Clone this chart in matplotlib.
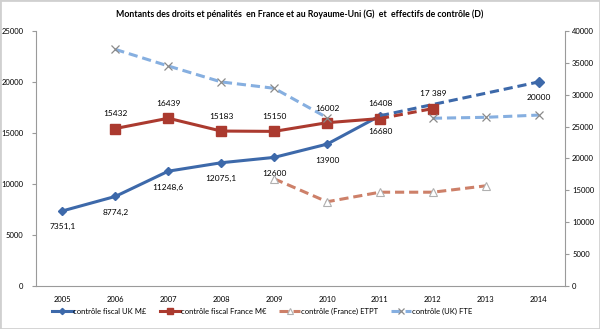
import numpy as np
import matplotlib.pyplot as plt

plt.rcParams['font.family'] = ['Lato', 'DejaVu Sans']

years = [2005, 2006, 2007, 2008, 2009, 2010, 2011, 2012, 2013, 2014]

# montants (G), en millions d'euros
uk_fiscal = [7351.1, 8774.2, 11248.6, 12075.1, 12600, 13900, 16680, np.nan, np.nan, np.nan]
fr_fiscal = [np.nan, 15432, 16439, 15183, 15150, 16002, 16408, np.nan, np.nan, np.nan]
uk_proj_years = [2011, 2014]
uk_proj = [16680, 20000]
fr_proj_years = [2011, 2012]
fr_proj = [16408, 17389]

# effectifs (D)
fr_etpt = [np.nan, np.nan, np.nan, np.nan, 16800, 13200, 14700, 14700, 15700, np.nan]
uk_fte = [np.nan, 37100, 34500, 32000, 31000, 26400, np.nan, 26300, 26450, 26800]

uk_labels = ['7351,1', '8774,2', '11248,6', '12075,1', '12600', '13900', '16680']
fr_labels = ['15432', '16439', '15183', '15150', '16002', '16408']

c_uk = '#3d69aa'
c_fr = '#ab3a2f'
c_etpt = '#cd8069'
c_fte = '#86afe0'

x = np.arange(len(years))
xi = {y: i for i, y in enumerate(years)}

fig = plt.figure(figsize=(6, 3.29), dpi=100)
ax = fig.add_axes([0.06, 0.131, 0.882, 0.775])
ax2 = ax.twinx()

# axe droit : effectifs
ax2.plot(x, fr_etpt, color=c_etpt, lw=2.2, ls=(0, (3, 1.6)), marker='^', ms=6,
         mfc='white', mec='#b0b0b0', mew=0.8, label='contrôle (France) ETPT')
ax2.plot(x, uk_fte, color=c_fte, lw=2.2, ls=(0, (3, 1.6)), marker='x', ms=6,
         mec='#8a8a8a', mew=0.9, label='contrôle (UK) FTE')

# axe gauche : montants
ax.plot(x, uk_fiscal, color=c_uk, lw=2.2, marker='D', ms=4.5, zorder=3,
        label='contrôle fiscal UK M£')
ax.plot(x, fr_fiscal, color=c_fr, lw=2.2, marker='s', ms=6.5, zorder=3,
        label='contrôle fiscal France M€')
ax.plot([xi[y] for y in uk_proj_years], uk_proj, color=c_uk, lw=2.2,
        ls=(0, (3, 1.6)), zorder=3)
ax.plot(xi[2014], uk_proj[-1], color=c_uk, marker='D', ms=5, zorder=3)
ax.plot([xi[y] for y in fr_proj_years], fr_proj, color=c_fr, lw=2.2,
        ls=(0, (3, 1.6)), zorder=3)
ax.plot(xi[2012], fr_proj[-1], color=c_fr, marker='s', ms=6.5, zorder=3)

fs = 6
for i, (v, t) in enumerate(zip(uk_fiscal, uk_labels)):
    ax.annotate(t, (x[i], v), xytext=(0, -9), textcoords='offset points',
                ha='center', va='top', fontsize=fs)
for i, t in enumerate(fr_labels):
    ax.annotate(t, (x[i + 1], fr_fiscal[i + 1]), xytext=(0, 8),
                textcoords='offset points', ha='center', va='bottom', fontsize=fs)
ax.annotate('17 389', (xi[2012], fr_proj[-1]), xytext=(0, 8),
            textcoords='offset points', ha='center', va='bottom', fontsize=fs)
ax.annotate('20000', (xi[2014], uk_proj[-1]), xytext=(0, -9),
            textcoords='offset points', ha='center', va='top', fontsize=fs)

ax.set_xlim(-0.5, len(years) - 0.5)
ax.set_ylim(0, 25000)
ax2.set_ylim(0, 40000)
ax.set_xticks(x)
ax.set_xticklabels([str(y) for y in years])
ax.set_yticks(np.arange(0, 25001, 5000))
ax2.set_yticks(np.arange(0, 40001, 5000))

for a in (ax, ax2):
    a.tick_params(labelsize=5.5, length=3, color='#9a9a9a', width=0.8)
    for s in a.spines.values():
        s.set_visible(False)
ax.tick_params(axis='x', length=0, pad=7)
ax.tick_params(axis='y', pad=6)
ax2.tick_params(axis='y', pad=2)
ax2.spines['right'].set_visible(True)
ax2.spines['right'].set_color('#9a9a9a')
ax.spines['left'].set_visible(True)
ax.spines['left'].set_color('#9a9a9a')
ax.spines['bottom'].set_visible(True)
ax.spines['bottom'].set_color('#9a9a9a')

fig.suptitle('Montants des droits et pénalités  en France et au Royaume-Uni (G)  et  effectifs de contrôle (D)',
             fontsize=6.3, fontweight='bold', y=0.972)

h1, l1 = ax.get_legend_handles_labels()
h2, l2 = ax2.get_legend_handles_labels()
fig.legend(h1 + h2, l1 + l2, loc='center', bbox_to_anchor=(0.437, 0.053), ncol=4,
           fontsize=5.5, frameon=False, handlelength=2.7, handletextpad=0.1,
           columnspacing=1.7, markerscale=0.7)

# cadre gris autour de la figure
fig.patches.append(plt.Rectangle((0, 0), 1, 1, transform=fig.transFigure,
                                 fill=False, ec='#d0d0d0', lw=2))

fig.savefig('out.png', dpi=100)
